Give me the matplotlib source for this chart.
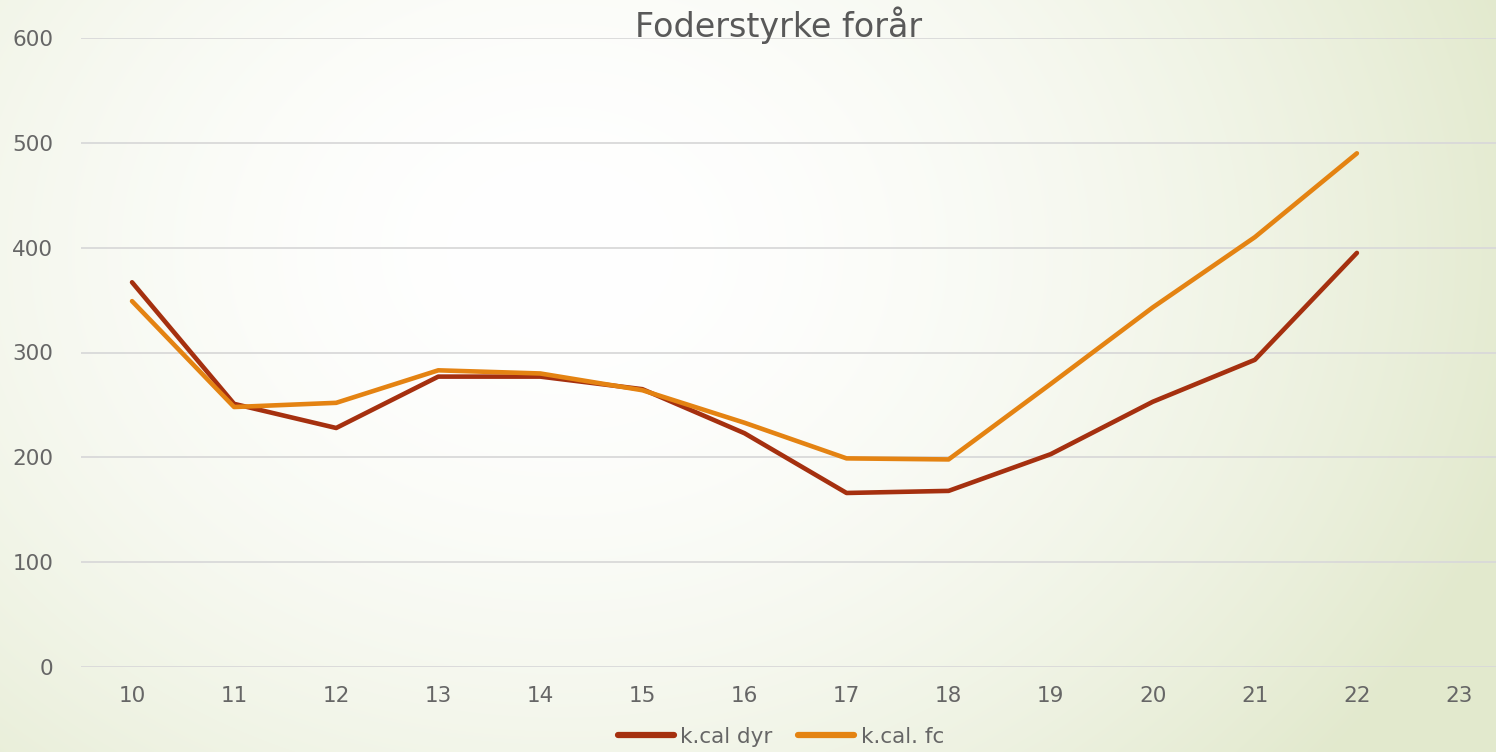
import numpy as np
import matplotlib.pyplot as plt

categories = ['10', '11', '12', '13', '14', '15', '16', '17', '18', '19', '20', '21', '22', '23']
kcal_dyr = [367, 251, 228, 277, 277, 265, 223, 166, 168, 203, 253, 293, 395, np.nan]
kcal_fc = [349, 248, 252, 283, 280, 264, 233, 199, 198, 270, 343, 410, 490, np.nan]

W, H = 1496, 752
fig = plt.figure(figsize=(W / 100, H / 100), dpi=100)

# background gradient, white in the middle, pale green at the edges
bg = fig.add_axes([0, 0, 1, 1], zorder=-1)
yy, xx = np.mgrid[0:H, 0:W]
d = np.sqrt(((xx - 560) / 1000.0) ** 2 + ((yy - 250) / 800.0) ** 2)
d = np.clip(d, 0, 1) ** 1.8
white = np.array([1.0, 1.0, 1.0])
green = np.array([226, 233, 205]) / 255.0
img = white[None, None, :] * (1 - d[..., None]) + green[None, None, :] * d[..., None]
bg.imshow(img, aspect='auto', extent=[0, W, H, 0])
bg.axis('off')

ax = fig.add_axes([81 / W, (H - 667) / H, (1510 - 81) / W, (667 - 38) / H])
ax.patch.set_alpha(0)
x = np.arange(len(categories))
ax.plot(x, kcal_dyr, color='#A5300F', lw=3.3, solid_capstyle='round', label='k.cal dyr', zorder=3)
ax.plot(x, kcal_fc, color='#E48312', lw=3.3, solid_capstyle='round', label='k.cal. fc', zorder=3)

ax.set_xlim(-0.5, len(categories) - 0.5)
ax.set_ylim(0, 600)
ax.set_yticks(range(0, 601, 100))
ax.set_xticks(x)
ax.set_xticklabels(categories)
ax.grid(axis='y', color='#d9d9d9', lw=1.3)
ax.set_axisbelow(True)
for s in ax.spines.values():
    s.set_visible(False)
ax.tick_params(length=0, labelsize=15.5, colors='#666666', pad=14)
ax.tick_params(axis='y', pad=20)

fig.text(779 / W, 1 - 25 / H, 'Foderstyrke forår', ha='center', va='center',
         fontsize=24, color='#595959')

leg = fig.legend(loc='center', bbox_to_anchor=(781 / W, 1 - 737 / H), ncol=2,
                 frameon=False, fontsize=15.5, handlelength=2.6, handletextpad=0.3,
                 columnspacing=1.2, labelcolor='#666666')
for line in leg.get_lines():
    line.set_linewidth(4.5)

fig.savefig('out.png', dpi=100)
